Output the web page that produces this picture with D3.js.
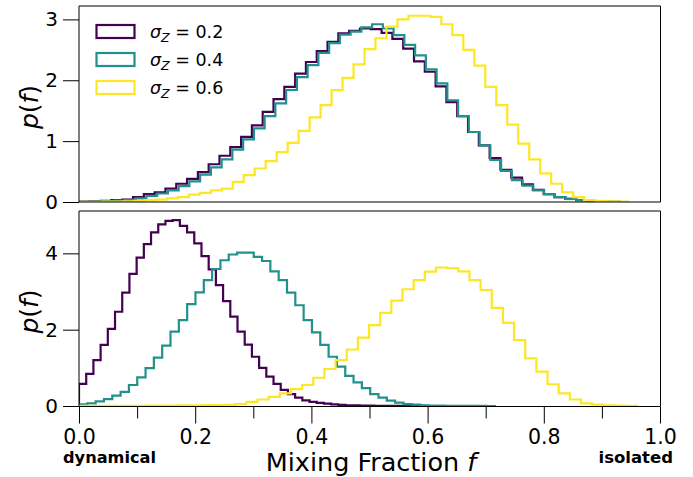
<!DOCTYPE html>
<html><head><meta charset="utf-8">
<script src="https://cdn.jsdelivr.net/npm/d3@7"></script>
<style>body{margin:0;background:#fff;} svg{display:block;font-family:"DejaVu Sans",sans-serif;}</style>
</head><body><svg id="c" width="693" height="477"></svg>
<script>
// ---------- data ----------
const seriesLabels = ["0.2", "0.4", "0.6"];
const seriesColors = ["#440154", "#21918c", "#fde725"];

// top panel: histogram densities (50 bins each) and bin ranges
const topPurple = [0.005,0.01,0.02,0.03,0.04,0.08,0.13,0.16,0.22,0.30,0.38,0.49,0.62,0.76,
  0.90,1.07,1.26,1.48,1.69,1.89,2.11,2.30,2.48,2.63,2.77,2.81,2.85,
  2.84,2.78,2.68,2.52,2.31,2.14,1.90,1.64,1.41,1.15,0.93,0.72,0.53,0.40,
  0.29,0.20,0.13,0.08,0.05,0.03,0.015,0.008,0.004];
const topTeal = [0.004,0.008,0.015,0.025,0.035,0.06,0.10,0.14,0.19,0.26,0.34,0.45,0.57,0.70,
  0.86,1.03,1.21,1.41,1.62,1.84,2.05,2.25,2.45,2.61,2.75,2.80,2.87,
  2.92,2.85,2.74,2.58,2.41,2.18,1.95,1.67,1.41,1.15,0.93,0.69,0.51,0.36,
  0.27,0.19,0.13,0.08,0.05,0.03,0.015,0.008,0.004];
const topYellow = [0.002,0.003,0.005,0.008,0.012,0.02,0.03,0.04,0.06,0.08,0.12,0.15,0.19,
  0.22,0.33,0.44,0.55,0.67,0.82,0.97,1.17,1.39,1.59,1.84,2.04,2.26,2.51,
  2.69,2.88,3.00,3.06,3.06,3.04,2.92,2.74,2.50,2.24,1.89,1.59,1.27,
  0.96,0.70,0.47,0.30,0.16,0.08,0.03,0.02,0.01,0.005];
const topRanges = [[0, 0.93], [0.005, 0.93], [0, 0.945]];

// bottom panel
const bottomPurple = [0.58,0.84,1.20,1.60,2.02,2.47,2.97,3.46,3.89,4.24,
  4.55,4.76,4.85,4.87,4.72,4.55,4.26,3.93,3.58,3.17,
  2.75,2.34,1.95,1.61,1.29,1.00,0.77,0.58,0.42,0.31,
  0.22,0.15,0.11,0.08,0.06,0.04,0.03,0.02,0.015,0.01,
  0.008,0.006,0.004,0.003,0.002,0.002,0.001,0.001,0.0005,0.0005];
const bottomTeal = [0.04,0.07,0.12,0.18,0.27,0.37,0.55,0.75,0.99,1.27,
  1.58,1.95,2.25,2.67,2.98,3.30,3.59,3.82,3.97,4.02,
  4.02,3.91,3.80,3.53,3.30,2.97,2.64,2.25,1.93,1.60,
  1.29,1.03,0.79,0.62,0.47,0.31,0.22,0.14,0.09,0.05,
  0.035,0.02,0.012,0.008,0.005,0.003,0.002,0.001,0.001,0.0005];
const bottomYellow = [0.001,0.002,0.003,0.004,0.005,0.006,0.008,0.01,0.012,0.015,
  0.018,0.022,0.026,0.03,0.05,0.11,0.17,0.24,0.33,0.44,
  0.55,0.74,0.97,1.20,1.48,1.79,2.12,2.44,2.76,3.06,
  3.30,3.52,3.63,3.61,3.53,3.30,3.04,2.57,2.18,1.73,
  1.25,0.90,0.57,0.33,0.17,0.07,0.035,0.015,0.008,0.004];
const bottomRanges = [[0, 0.62], [0, 0.716], [0, 0.96]];

const topYTicks = [0, 1, 2, 3];
const bottomYTicks = [0, 2, 4];
const xMajorTicks = [0, 0.2, 0.4, 0.6, 0.8, 1.0];
const xMinorTicks = [0.1, 0.3, 0.5, 0.7, 0.9];
const topYMax = 3.22, bottomYMax = 5.11;

// ---------- drawing ----------
const svg = d3.select("#c");
const X0 = 79, X1 = 660;
const x = d3.scaleLinear().domain([0, 1]).range([X0, X1]);

const panels = [
  {top: 6, bottom: 202, ymax: topYMax, ticks: topYTicks, data: [topPurple, topTeal, topYellow], ranges: topRanges, xaxis: false},
  {top: 211, bottom: 406, ymax: bottomYMax, ticks: bottomYTicks, data: [bottomPurple, bottomTeal, bottomYellow], ranges: bottomRanges, xaxis: true}
];

panels.forEach((p, pi) => {
  const y = d3.scaleLinear().domain([0, p.ymax]).range([p.bottom, p.top]);
  const clipId = "clip" + pi;
  svg.append("clipPath").attr("id", clipId).append("rect")
    .attr("x", X0).attr("y", p.top).attr("width", X1 - X0).attr("height", p.bottom - p.top);

  const g = svg.append("g").attr("clip-path", `url(#${clipId})`);
  const line = d3.line().x(d => x(d[0])).y(d => y(d[1]));
  p.data.forEach((vals, si) => {
    const [a, b] = p.ranges[si];
    const w = (b - a) / vals.length;
    const pts = [[a, 0]];
    vals.forEach((v, i) => { pts.push([a + i * w, v]); pts.push([a + (i + 1) * w, v]); });
    pts.push([b, 0]);
    g.append("path").attr("d", line(pts)).attr("fill", "none")
      .attr("stroke", seriesColors[si]).attr("stroke-width", 2.2).attr("stroke-linejoin", "miter");
  });

  // spines
  const sp = svg.append("g").attr("fill", "none").attr("stroke", "#000").attr("stroke-width", 1);
  sp.append("line").attr("x1", X0).attr("x2", X0).attr("y1", p.top).attr("y2", p.bottom);
  sp.append("line").attr("x1", X1 + 0.5).attr("x2", X1 + 0.5).attr("y1", p.top).attr("y2", p.bottom);
  sp.append("line").attr("x1", X0).attr("x2", X1 + 0.5).attr("y1", p.top).attr("y2", p.top);
  sp.append("line").attr("x1", X0).attr("x2", X1 + 0.5).attr("y1", p.bottom + (p.xaxis ? 0.5 : 0)).attr("y2", p.bottom + (p.xaxis ? 0.5 : 0));

  // y axis
  const ya = svg.append("g").attr("transform", `translate(${X0},0)`)
    .call(d3.axisLeft(y).tickValues(p.ticks).tickFormat(d3.format("d")).tickSize(16).tickPadding(5));
  ya.select(".domain").remove();
  ya.selectAll("text").attr("font-size", 20).attr("font-family", "DejaVu Sans").attr("fill", "#000");
  ya.selectAll("line").attr("stroke", "#000");

  // y label
  const yl = svg.append("text")
    .attr("transform", `translate(38,${(p.top + p.bottom) / 2 + 3}) rotate(-90)`)
    .attr("text-anchor", "middle").attr("font-size", 25).attr("fill", "#000");
  yl.append("tspan").attr("font-style", "italic").text("p");
  yl.append("tspan").text("(");
  yl.append("tspan").attr("font-style", "italic").text("f");
  yl.append("tspan").text(")");

  if (p.xaxis) {
    const xa = svg.append("g").attr("transform", `translate(0,${p.bottom + 0.5})`)
      .call(d3.axisBottom(x).tickValues(xMajorTicks).tickFormat(d3.format(".1f")).tickSize(17).tickPadding(6));
    xa.select(".domain").remove();
    xa.selectAll("text").attr("font-size", 20.5).attr("font-family", "DejaVu Sans").attr("fill", "#000");
    xa.selectAll("line").attr("stroke", "#000");
    const xm = svg.append("g").attr("transform", `translate(0,${p.bottom + 0.5})`)
      .call(d3.axisBottom(x).tickValues(xMinorTicks).tickFormat("").tickSize(12));
    xm.select(".domain").remove();
    xm.selectAll("line").attr("stroke", "#000");
  }
});

// x label and end annotations
const xl = svg.append("text").attr("x", 371).attr("y", 471).attr("text-anchor", "middle")
  .attr("font-size", 25.5).attr("fill", "#000");
xl.append("tspan").text("Mixing Fraction ");
xl.append("tspan").attr("font-style", "italic").text("f");

svg.append("text").attr("x", 63).attr("y", 463).attr("font-size", 16.2).attr("font-weight", "bold")
  .attr("fill", "#000").text("dynamical");
svg.append("text").attr("x", 673).attr("y", 463).attr("text-anchor", "end").attr("font-size", 16.5)
  .attr("font-weight", "bold").attr("fill", "#000").text("isolated");

// legend
const legendCenters = [31.5, 59.5, 87.5];
seriesLabels.forEach((lab, i) => {
  const cy = legendCenters[i];
  svg.append("rect").attr("x", 96.5).attr("y", cy - 6.5).attr("width", 38).attr("height", 13)
    .attr("fill", "none").attr("stroke", seriesColors[i]).attr("stroke-width", 2.2);
  const t = svg.append("text").attr("x", 150).attr("y", cy + 6).attr("font-size", 17.5).attr("fill", "#000");
  t.append("tspan").attr("font-style", "italic").text("σ");
  t.append("tspan").attr("font-style", "italic").attr("font-size", 12.5).attr("dy", 4).text("Z");
  t.append("tspan").attr("dy", -4).text(" = " + lab);
});
</script>
</body></html>
